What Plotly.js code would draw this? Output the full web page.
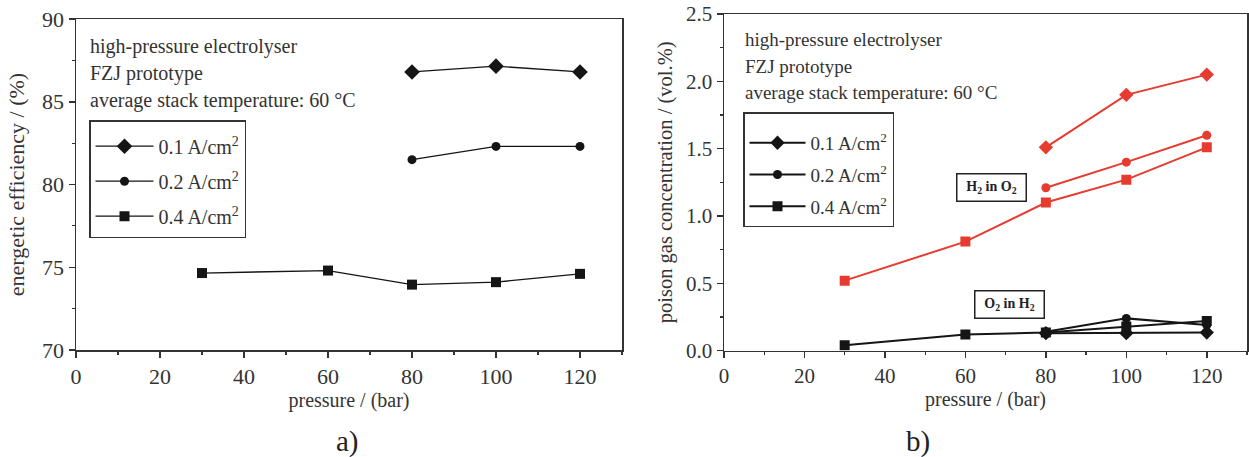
<!DOCTYPE html>
<html>
<head>
<meta charset="utf-8">
<script src="https://cdn.plot.ly/plotly-3.0.1.min.js"></script>
<style>html,body{margin:0;padding:0;background:#fff;}#chart{width:1249px;height:457px;}</style>
</head>
<body>
<div id="chart"></div>
<script>
// ---- Panel a) energetic efficiency ----
const seriesNames = ['0.1 A/cm<sup>2</sup>', '0.2 A/cm<sup>2</sup>', '0.4 A/cm<sup>2</sup>'];
const pressureShort = [80, 100, 120];
const pressureLong = [30, 60, 80, 100, 120];
const effA01 = [86.8, 87.15, 86.8];
const effA02 = [81.5, 82.3, 82.3];
const effA04 = [74.65, 74.8, 73.95, 74.1, 74.6];

// ---- Panel b) poison gas concentration ----
const h2inO2_01 = [1.51, 1.90, 2.05];
const h2inO2_02 = [1.21, 1.40, 1.60];
const h2inO2_04 = [0.52, 0.81, 1.10, 1.27, 1.51];
const o2inH2_01 = [0.13, 0.13, 0.135];
const o2inH2_02 = [0.14, 0.24, 0.19];
const o2inH2_04 = [0.04, 0.12, 0.135, 0.18, 0.22];

const infoLines = ['high-pressure electrolyser', 'FZJ prototype', 'average stack temperature: 60 °C'];
const panelLabels = ['a)', 'b)'];
const xTitle = 'pressure / (bar)';
const yTitleA = 'energetic efficiency / (%)';
const yTitleB = 'poison gas concentration / (vol.%)';

const BLACK = '#151515';
const RED = '#e63b2e';
const TXT = '#333333';
const FONT = "'Liberation Serif', 'Times New Roman', serif";
const symbols = ['diamond', 'circle', 'square'];
const mSizeA = [12, 9, 10];
const mSizeB = [11, 9, 10];

const traces = [];
// panel a
[[pressureShort, effA01], [pressureShort, effA02], [pressureLong, effA04]].forEach((d, i) => {
  traces.push({
    x: d[0], y: d[1], xaxis: 'x', yaxis: 'y', type: 'scatter', mode: 'lines+markers',
    name: seriesNames[i], legend: 'legend', legendgroup: 'a' + i,
    line: {color: BLACK, width: 1.3},
    marker: {symbol: symbols[i], size: mSizeA[i], color: BLACK}
  });
});
// panel b: red H2 in O2
[[pressureShort, h2inO2_01], [pressureShort, h2inO2_02], [pressureLong, h2inO2_04]].forEach((d, i) => {
  traces.push({
    x: d[0], y: d[1], xaxis: 'x2', yaxis: 'y2', type: 'scatter', mode: 'lines+markers',
    name: seriesNames[i] + ' (H2 in O2)', showlegend: false,
    line: {color: RED, width: 2},
    marker: {symbol: symbols[i], size: mSizeB[i], color: RED}
  });
});
// panel b: black O2 in H2
[[pressureShort, o2inH2_01], [pressureShort, o2inH2_02], [pressureLong, o2inH2_04]].forEach((d, i) => {
  traces.push({
    x: d[0], y: d[1], xaxis: 'x2', yaxis: 'y2', type: 'scatter', mode: 'lines+markers',
    name: seriesNames[i], legend: 'legend2', legendgroup: 'b' + i,
    line: {color: BLACK, width: 2},
    marker: {symbol: symbols[i], size: mSizeB[i], color: BLACK}
  });
});

function axisBase(extra) {
  return Object.assign({
    showline: true, linecolor: '#333', linewidth: 1.5, mirror: true,
    ticks: 'outside', ticklen: 6, tickwidth: 1.5, tickcolor: '#333',
    showgrid: false, zeroline: false, automargin: false,
    tickfont: {family: FONT, size: 22, color: TXT}
  }, extra);
}

const W = 1249, H = 457;
const px = v => v / W, py = v => 1 - v / H;

const annotations = [];
infoLines.forEach((t, i) => {
  annotations.push({xref: 'paper', yref: 'paper', x: px(88), y: py([46, 73, 100][i]), xanchor: 'left', yanchor: 'middle',
    text: t, showarrow: false, font: {family: FONT, size: 20, color: TXT}});
  annotations.push({xref: 'paper', yref: 'paper', x: px(743), y: py([39, 66, 92][i]), xanchor: 'left', yanchor: 'middle',
    text: t, showarrow: false, font: {family: FONT, size: 19, color: TXT}});
});
annotations.push({xref: 'paper', yref: 'paper', x: px(991.5), y: py(187), xanchor: 'center', yanchor: 'middle',
  text: '<b>H<sub>2</sub> in O<sub>2</sub></b>', showarrow: false, width: 66, height: 24,
  bordercolor: '#222', borderwidth: 1.5, borderpad: 1, bgcolor: '#fff', font: {family: FONT, size: 14, color: '#222'}});
annotations.push({xref: 'paper', yref: 'paper', x: px(1009.5), y: py(304), xanchor: 'center', yanchor: 'middle',
  text: '<b>O<sub>2</sub> in H<sub>2</sub></b>', showarrow: false, width: 66, height: 24,
  bordercolor: '#222', borderwidth: 1.5, borderpad: 1, bgcolor: '#fff', font: {family: FONT, size: 14, color: '#222'}});
annotations.push({xref: 'paper', yref: 'paper', x: px(347), y: py(441), xanchor: 'center', yanchor: 'middle',
  text: panelLabels[0], showarrow: false, font: {family: FONT, size: 29, color: '#222'}});
annotations.push({xref: 'paper', yref: 'paper', x: px(918), y: py(441), xanchor: 'center', yanchor: 'middle',
  text: panelLabels[1], showarrow: false, font: {family: FONT, size: 29, color: '#222'}});

const layout = {
  width: W, height: H,
  margin: {l: 0, r: 0, t: 0, b: 0},
  paper_bgcolor: '#fff', plot_bgcolor: '#fff',
  font: {family: FONT, color: TXT},
  xaxis: axisBase({domain: [px(76), px(622)], range: [0, 130], dtick: 20, tick0: 0, anchor: 'y',
    minor: {dtick: 10, ticklen: 3, tickwidth: 1.2, tickcolor: '#333', ticks: 'outside'},
    title: {text: xTitle, standoff: 4, font: {family: FONT, size: 20, color: TXT}}}),
  yaxis: axisBase({domain: [py(350), py(19)], range: [70, 90], dtick: 5, tick0: 70, anchor: 'x',
    minor: {dtick: 2.5, ticklen: 3, tickwidth: 1.2, tickcolor: '#333', ticks: 'outside'},
    title: {text: yTitleA, standoff: 11, font: {family: FONT, size: 22, color: TXT}}}),
  xaxis2: axisBase({domain: [px(724), px(1247)], range: [0, 130], dtick: 20, tick0: 0, anchor: 'y2',
    minor: {dtick: 10, ticklen: 3, tickwidth: 1.2, tickcolor: '#333', ticks: 'outside'},
    tickfont: {family: FONT, size: 21, color: TXT},
    title: {text: xTitle, standoff: 4, font: {family: FONT, size: 20, color: TXT}}}),
  yaxis2: axisBase({domain: [py(350.7), py(14)], range: [0, 2.5], dtick: 0.5, tick0: 0, tickformat: '.1f', anchor: 'x2',
    minor: {dtick: 0.25, ticklen: 3, tickwidth: 1.2, tickcolor: '#333', ticks: 'outside'},
    tickfont: {family: FONT, size: 21, color: TXT},
    title: {text: yTitleB, standoff: 8, font: {family: FONT, size: 20.5, color: TXT}}}),
  legend: {x: px(89), y: py(120), xanchor: 'left', yanchor: 'top', xref: 'paper', yref: 'paper',
    bordercolor: '#333', borderwidth: 1.5, bgcolor: '#fff', itemwidth: 58, tracegroupgap: 6,
    title: {text: ' ', font: {family: FONT, size: 4}},
    font: {family: FONT, size: 20, color: TXT}},
  legend2: {x: px(743), y: py(112), xanchor: 'left', yanchor: 'top', xref: 'paper', yref: 'paper',
    bordercolor: '#333', borderwidth: 1.5, bgcolor: '#fff', itemwidth: 56, tracegroupgap: 4,
    title: {text: ' ', font: {family: FONT, size: 8}},
    font: {family: FONT, size: 19, color: TXT}},
  annotations: annotations,
  showlegend: true
};

Plotly.newPlot('chart', traces, layout, {displayModeBar: false, staticPlot: true});
</script>
</body>
</html>
